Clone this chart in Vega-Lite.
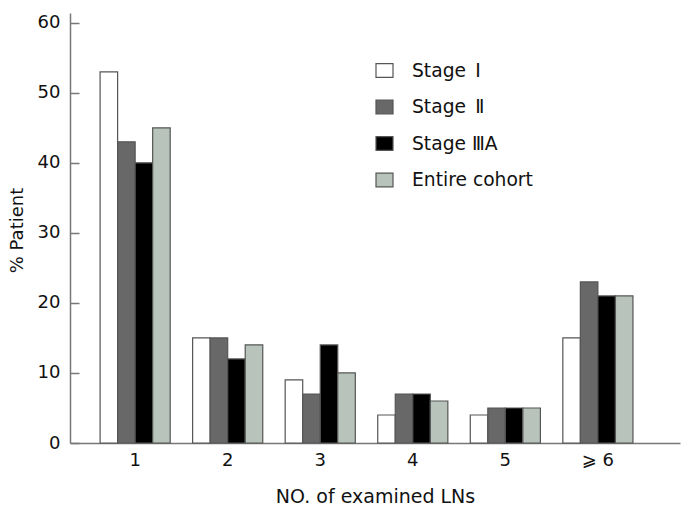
{
  "$schema": "https://vega.github.io/schema/vega-lite/v6.json",
  "width": 610,
  "height": 430,
  "autosize": {"type": "none"},
  "padding": {"left": 70, "top": 13, "right": 4, "bottom": 64},
  "background": "white",
  "config": {
    "view": {"stroke": null},
    "font": "DejaVu Sans",
    "axis": {"labelFont": "DejaVu Sans", "titleFont": "DejaVu Sans", "labelColor": "#111", "titleColor": "#111", "domainColor": "#777", "tickColor": "#777", "grid": false, "labelFontSize": 18, "titleFontSize": 18, "titleFontWeight": "normal", "domainWidth": 1.5, "tickWidth": 1.5}
  },
  "data": {
    "values": [
      {"n": "1", "stage": "Stage Ⅰ", "pct": 53},
      {"n": "1", "stage": "Stage Ⅱ", "pct": 43},
      {"n": "1", "stage": "Stage ⅢA", "pct": 40},
      {"n": "1", "stage": "Entire cohort", "pct": 45},
      {"n": "2", "stage": "Stage Ⅰ", "pct": 15},
      {"n": "2", "stage": "Stage Ⅱ", "pct": 15},
      {"n": "2", "stage": "Stage ⅢA", "pct": 12},
      {"n": "2", "stage": "Entire cohort", "pct": 14},
      {"n": "3", "stage": "Stage Ⅰ", "pct": 9},
      {"n": "3", "stage": "Stage Ⅱ", "pct": 7},
      {"n": "3", "stage": "Stage ⅢA", "pct": 14},
      {"n": "3", "stage": "Entire cohort", "pct": 10},
      {"n": "4", "stage": "Stage Ⅰ", "pct": 4},
      {"n": "4", "stage": "Stage Ⅱ", "pct": 7},
      {"n": "4", "stage": "Stage ⅢA", "pct": 7},
      {"n": "4", "stage": "Entire cohort", "pct": 6},
      {"n": "5", "stage": "Stage Ⅰ", "pct": 4},
      {"n": "5", "stage": "Stage Ⅱ", "pct": 5},
      {"n": "5", "stage": "Stage ⅢA", "pct": 5},
      {"n": "5", "stage": "Entire cohort", "pct": 5},
      {"n": "⩾ 6", "stage": "Stage Ⅰ", "pct": 15},
      {"n": "⩾ 6", "stage": "Stage Ⅱ", "pct": 23},
      {"n": "⩾ 6", "stage": "Stage ⅢA", "pct": 21},
      {"n": "⩾ 6", "stage": "Entire cohort", "pct": 21}
    ]
  },
  "mark": {"type": "bar", "stroke": "#555", "strokeWidth": 1.2},
  "encoding": {
    "x": {
      "field": "n", "type": "nominal", "sort": null,
      "scale": {"paddingInner": 0.2424, "paddingOuter": 0.4167, "align": 0.39},
      "axis": {"title": "NO. of examined LNs", "labelAngle": 0, "ticks": false, "labelPadding": 8, "titleY": 59, "titleBaseline": "alphabetic", "titleFontSize": 19}
    },
    "xOffset": {"field": "stage", "type": "nominal", "sort": ["Stage Ⅰ", "Stage Ⅱ", "Stage ⅢA", "Entire cohort"], "scale": {"paddingInner": 0, "paddingOuter": 0}},
    "y": {
      "field": "pct", "type": "quantitative",
      "scale": {"domain": [0, 61.4], "nice": false},
      "axis": {"title": "% Patient", "values": [0, 10, 20, 30, 40, 50, 60], "tickSize": -9, "labelPadding": 19, "titleX": -48, "titleY": 217, "titleBaseline": "alphabetic"}
    },
    "color": {
      "field": "stage", "type": "nominal",
      "sort": ["Stage Ⅰ", "Stage Ⅱ", "Stage ⅢA", "Entire cohort"],
      "scale": {"domain": ["Stage Ⅰ", "Stage Ⅱ", "Stage ⅢA", "Entire cohort"], "range": ["#ffffff", "#686868", "#000000", "#b8c4bb"]},
      "legend": {
        "title": null, "orient": "none", "legendX": 305, "legendY": 48, "padding": 0,
        "symbolType": "M-1,-0.8H1V0.8H-1Z", "symbolSize": 289, "symbolStrokeColor": "#555", "symbolStrokeWidth": 1.2, "symbolOpacity": 1,
        "labelFont": "DejaVu Sans", "labelFontSize": 18.7, "labelColor": "#111", "labelOffset": 18, "rowPadding": 16.5,
        "labelExpr": "datum.label == 'Stage Ⅰ' ? 'Stage\u2002Ⅰ' : datum.label == 'Stage Ⅱ' ? 'Stage\u2002Ⅱ' : datum.label"
      }
    }
  }
}
